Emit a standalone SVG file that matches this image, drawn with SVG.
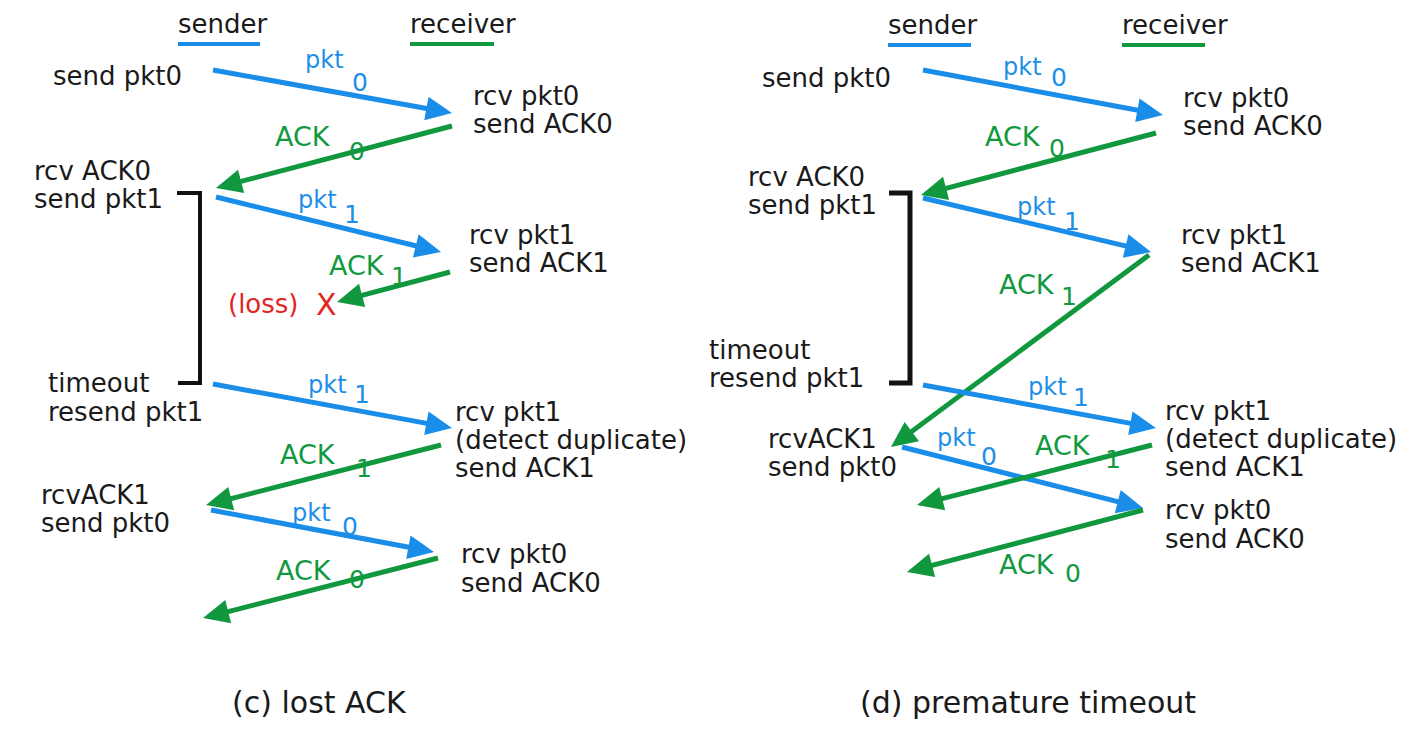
<svg xmlns="http://www.w3.org/2000/svg" width="1415" height="738" viewBox="0 0 1415 738">
<defs>
<style>
text{font-family:"DejaVu Sans","Liberation Sans",sans-serif;}
.t{font-size:26px;fill:#1a1a1a;}
.cap{font-size:30px;fill:#1a1a1a;}
.bl{fill:#1e8fe8;}
.gr{fill:#12993f;}
.pk{font-size:24px;}
.ak{font-size:27px;}
.sb{font-size:25px;}
.red{fill:#e3261f;font-size:26px;}
.lb{stroke:#1a8de9;stroke-width:5;fill:none;marker-end:url(#ab);}
.lg{stroke:#11983f;stroke-width:5;fill:none;marker-end:url(#ag);}
.br{stroke:#111;stroke-width:4;fill:none;}
</style>
<marker id="ab" markerUnits="userSpaceOnUse" markerWidth="30" markerHeight="26" refX="6" refY="12" orient="auto" overflow="visible"><path d="M0,0 L26,12 L0,24 z" fill="#1a8de9"/></marker>
<marker id="ag" markerUnits="userSpaceOnUse" markerWidth="30" markerHeight="26" refX="6" refY="12" orient="auto" overflow="visible"><path d="M0,0 L26,12 L0,24 z" fill="#11983f"/></marker>
</defs>
<rect width="1415" height="738" fill="#ffffff"/>

<!-- Left panel (c) -->
<g id="c-headers">
<text class="t" x="178" y="33">sender</text>
<line x1="178" y1="44" x2="260" y2="44" stroke="#1a8de9" stroke-width="4"/>
<text class="t" x="410" y="33">receiver</text>
<line x1="410" y1="44" x2="494" y2="44" stroke="#11983f" stroke-width="4"/>
</g>
<g id="c-s1"><text class="t" x="53" y="85">send pkt0</text></g>
<g id="c-r1"><text class="t" x="473" y="105">rcv pkt0</text><text class="t" x="473" y="133">send ACK0</text></g>
<g id="c-s2"><text class="t" x="34" y="180">rcv ACK0</text><text class="t" x="34" y="208">send pkt1</text></g>
<g id="c-r2"><text class="t" x="469" y="244">rcv pkt1</text><text class="t" x="469" y="272">send ACK1</text></g>
<g id="c-loss"><text class="red" x="228" y="313">(loss)</text><text class="red" x="316" y="315" style="font-size:30px">X</text></g>
<g id="c-s3"><text class="t" x="48" y="392">timeout</text><text class="t" x="48" y="421">resend pkt1</text></g>
<g id="c-r3"><text class="t" x="455" y="421">rcv pkt1</text><text class="t" x="455" y="449">(detect duplicate)</text><text class="t" x="455" y="477">send ACK1</text></g>
<g id="c-s4"><text class="t" x="41" y="504">rcvACK1</text><text class="t" x="41" y="532">send pkt0</text></g>
<g id="c-r4"><text class="t" x="461" y="563">rcv pkt0</text><text class="t" x="461" y="592">send ACK0</text></g>
<g id="c-caption"><text class="cap" x="232" y="713">(c) lost ACK</text></g>

<g id="c-bracket"><path class="br" d="M177,193 H200 V383 H178"/></g>

<g id="c-connectors">
<line class="lb" x1="213" y1="70" x2="432.3" y2="109.5"/>
<line class="lg" x1="452" y1="126" x2="235.3" y2="182.9"/>
<line class="lb" x1="216" y1="197" x2="421.6" y2="247.3"/>
<line class="lg" x1="450" y1="272" x2="356.3" y2="296.9"/>
<line class="lb" x1="213" y1="384" x2="432.3" y2="424.4"/>
<line class="lg" x1="441" y1="445" x2="225.4" y2="500.1"/>
<line class="lb" x1="211" y1="510" x2="414.3" y2="548.3"/>
<line class="lg" x1="438" y1="558" x2="222.4" y2="613.1"/>
<text class="bl pk" x="305" y="68">pkt</text><text class="bl sb" x="352" y="91">0</text>
<text class="gr ak" x="275" y="146">ACK</text><text class="gr sb" x="349" y="160">0</text>
<text class="bl pk" x="298" y="208">pkt</text><text class="bl sb" x="344" y="223">1</text>
<text class="gr ak" x="329" y="275">ACK</text><text class="gr sb" x="391" y="285">1</text>
<text class="bl pk" x="308" y="393">pkt</text><text class="bl sb" x="354" y="403">1</text>
<text class="gr ak" x="280" y="464">ACK</text><text class="gr sb" x="356" y="477">1</text>
<text class="bl pk" x="292" y="521">pkt</text><text class="bl sb" x="342" y="535">0</text>
<text class="gr ak" x="276" y="580">ACK</text><text class="gr sb" x="349" y="588">0</text>
</g>

<!-- Right panel (d) -->
<g id="d-headers">
<text class="t" x="888" y="34">sender</text>
<line x1="888" y1="45" x2="971" y2="45" stroke="#1a8de9" stroke-width="4"/>
<text class="t" x="1122" y="34">receiver</text>
<line x1="1122" y1="45" x2="1205" y2="45" stroke="#11983f" stroke-width="4"/>
</g>
<g id="d-s1"><text class="t" x="762" y="87">send pkt0</text></g>
<g id="d-r1"><text class="t" x="1183" y="107">rcv pkt0</text><text class="t" x="1183" y="135">send ACK0</text></g>
<g id="d-s2"><text class="t" x="748" y="186">rcv ACK0</text><text class="t" x="748" y="214">send pkt1</text></g>
<g id="d-r2"><text class="t" x="1181" y="244">rcv pkt1</text><text class="t" x="1181" y="272">send ACK1</text></g>
<g id="d-s3"><text class="t" x="709" y="359">timeout</text><text class="t" x="709" y="387">resend pkt1</text></g>
<g id="d-r3"><text class="t" x="1165" y="420">rcv pkt1</text><text class="t" x="1165" y="448">(detect duplicate)</text><text class="t" x="1165" y="476">send ACK1</text></g>
<g id="d-s4"><text class="t" x="768" y="448">rcvACK1</text><text class="t" x="768" y="476">send pkt0</text></g>
<g id="d-r4"><text class="t" x="1165" y="519">rcv pkt0</text><text class="t" x="1165" y="548">send ACK0</text></g>
<g id="d-caption"><text class="cap" x="860" y="713">(d) premature timeout</text></g>

<g id="d-bracket"><path class="br" d="M889,193 H910 V383 H889" style="stroke-width:5"/></g>

<g id="d-connectors">
<line class="lb" x1="923" y1="70" x2="1143.3" y2="111.3"/>
<line class="lg" x1="1156" y1="133" x2="940.3" y2="189.9"/>
<line class="lb" x1="923" y1="198" x2="1131.5" y2="247.4"/>
<line class="lg" x1="1149" y1="255" x2="907" y2="435.1"/>
<line class="lb" x1="923" y1="385" x2="1136.3" y2="424.4"/>
<line class="lb" x1="902" y1="447" x2="1123.6" y2="503.1"/>
<line class="lg" x1="1152" y1="445" x2="936.4" y2="500.1"/>
<line class="lg" x1="1143" y1="510" x2="926.3" y2="566.9"/>
<text class="bl pk" x="1003" y="75">pkt</text><text class="bl sb" x="1051" y="86">0</text>
<text class="gr ak" x="985" y="146">ACK</text><text class="gr sb" x="1049" y="157">0</text>
<text class="bl pk" x="1017" y="215">pkt</text><text class="bl sb" x="1064" y="230">1</text>
<text class="gr ak" x="999" y="294">ACK</text><text class="gr sb" x="1061" y="305">1</text>
<text class="bl pk" x="1028" y="395">pkt</text><text class="bl sb" x="1073" y="406">1</text>
<text class="bl pk" x="937" y="446">pkt</text><text class="bl sb" x="981" y="465">0</text>
<text class="gr ak" x="1035" y="455">ACK</text><text class="gr sb" x="1105" y="468">1</text>
<text class="gr ak" x="999" y="574">ACK</text><text class="gr sb" x="1065" y="582">0</text>
</g>
</svg>
